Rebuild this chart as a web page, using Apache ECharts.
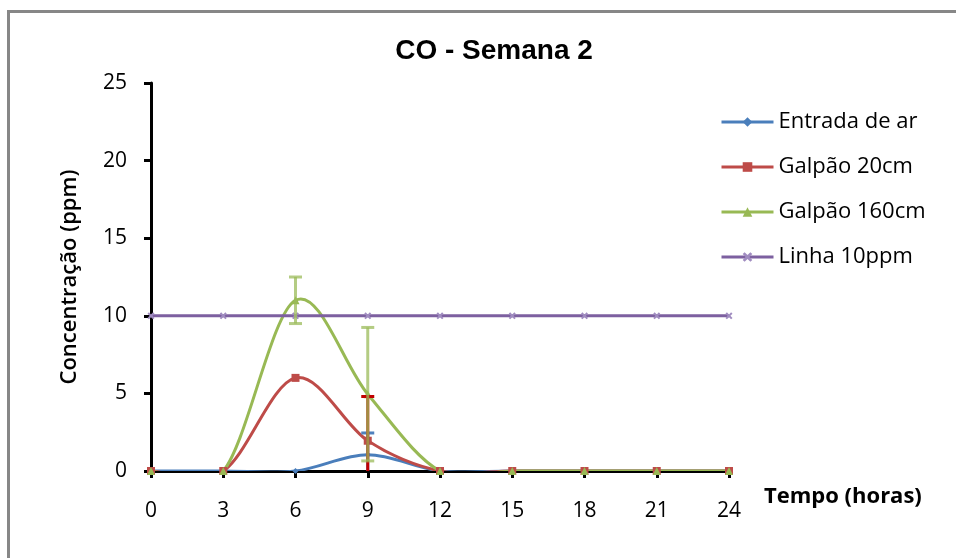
<!DOCTYPE html>
<html>
<head>
<meta charset="utf-8">
<script src="https://cdn.jsdelivr.net/npm/echarts@6/dist/echarts.min.js"></script>
<style>
  html, body { margin: 0; padding: 0; background: #fff; }
  #chart { width: 956px; height: 558px; }
</style>
</head>
<body>
<div id="chart"></div>
<script>
// Sampling times (hours) and CO concentrations (ppm), week 2
const hours = [0, 3, 6, 9, 12, 15, 18, 21, 24];
const entradaAr = [0, 0, 0, 1.05, 0, 0, 0, 0, 0];
const galpao20 = [0, 0, 6.0, 1.95, 0, 0, 0, 0, 0];
const galpao160 = [0, 0, 11.0, 4.95, 0, 0, 0, 0, 0];
const linha10 = [10, 10, 10, 10, 10, 10, 10, 10, 10];

// Standard deviations drawn as error bars: [hour, mean, deviation]
const erroEntrada = [[9, 1.05, 1.4]];
const erro20 = [[9, 1.95, 2.85]];
const erro160 = [[6, 11.0, 1.5], [9, 4.95, 4.3]];

const xTicks = [0, 3, 6, 9, 12, 15, 18, 21, 24];
const yTicks = [0, 5, 10, 15, 20, 25];

const seriesNames = ['Entrada de ar', 'Galpão 20cm', 'Galpão 160cm', 'Linha 10ppm'];
const colors = ['#4A7EBB', '#BE4B48', '#98B954', '#7D60A0'];

const pairs = vals => hours.map((h, i) => [h, vals[i]]);

const xMark = 'path://M2,0 L5,3 L8,0 L10,2 L7,5 L10,8 L8,10 L5,7 L2,10 L0,8 L3,5 L0,2 Z';

// Smoothed curve through the measured points (cardinal spline, spreadsheet style),
// placed with the grid's own coordinate system.
function curveSeries(key, vals, color) {
  return {
    type: 'custom',
    name: key,
    clip: true,
    z: 2,
    silent: true,
    data: [0],
    renderItem: function (params, api) {
      const p = hours.map((h, i) => api.coord([h, vals[i]]));
      let d = 'M' + p[0][0] + ',' + p[0][1];
      for (let i = 0; i < p.length - 1; i++) {
        const p0 = p[i - 1] || p[i];
        const p1 = p[i];
        const p2 = p[i + 1];
        const p3 = p[i + 2] || p[i + 1];
        const c1x = p1[0] + (p2[0] - p0[0]) / 6;
        const c1y = p1[1] + (p2[1] - p0[1]) / 6;
        const c2x = p2[0] - (p3[0] - p1[0]) / 6;
        const c2y = p2[1] - (p3[1] - p1[1]) / 6;
        d += ' C' + c1x + ',' + c1y + ' ' + c2x + ',' + c2y + ' ' + p2[0] + ',' + p2[1];
      }
      return {
        type: 'path',
        shape: { pathData: d },
        style: { stroke: color, fill: 'none', lineWidth: 3, lineJoin: 'round' }
      };
    }
  };
}

function errorSeries(key, data, color, opacity) {
  return {
    type: 'custom',
    name: key,
    clip: true,
    z: 5,
    silent: true,
    data: data,
    renderItem: function (params, api) {
      const x = api.value(0);
      const m = api.value(1);
      const d = api.value(2);
      const top = api.coord([x, m + d]);
      const bot = api.coord([x, m - d]);
      const w = 6.5;
      const style = { stroke: color, lineWidth: 3, opacity: opacity };
      return {
        type: 'group',
        children: [
          { type: 'line', shape: { x1: top[0], y1: top[1], x2: bot[0], y2: bot[1] }, style: style },
          { type: 'line', shape: { x1: top[0] - w, y1: top[1], x2: top[0] + w, y2: top[1] }, style: style },
          { type: 'line', shape: { x1: bot[0] - w, y1: bot[1], x2: bot[0] + w, y2: bot[1] }, style: style }
        ]
      };
    }
  };
}

function markerSeries(i, vals, symbol, size, markColor, smooth) {
  return {
    name: seriesNames[i], type: 'line', data: pairs(vals), z: 3,
    symbol: symbol, symbolSize: size,
    lineStyle: { width: 3, color: colors[i], opacity: smooth ? 0 : 1 },
    itemStyle: { color: markColor }
  };
}

const chart = echarts.init(document.getElementById('chart'));
chart.setOption({
  animation: false,
  backgroundColor: '#fff',
  color: colors,
  title: {
    text: 'CO - Semana 2',
    left: 489,
    textAlign: 'center',
    top: 32,
    textStyle: { fontFamily: 'Liberation Sans', fontWeight: 'bold', fontSize: 28, color: '#000' }
  },
  legend: {
    orient: 'vertical',
    left: 720,
    top: 111,
    padding: 0,
    itemWidth: 52,
    itemHeight: 12,
    itemGap: 23,
    data: seriesNames.map((n, i) => ({ name: n, lineStyle: { color: colors[i], width: 3, opacity: 1 } })),
    textStyle: { fontFamily: 'Open Sans', fontSize: 22, color: '#000', lineHeight: 22 }
  },
  grid: { left: 151, right: 227, top: 83, bottom: 87 },
  xAxis: {
    type: 'value',
    min: xTicks[0],
    max: xTicks[xTicks.length - 1],
    interval: 3,
    splitLine: { show: false },
    axisLine: { lineStyle: { color: '#000', width: 3 } },
    axisTick: { show: true, inside: false, length: 7, lineStyle: { color: '#000', width: 3 } },
    axisLabel: { margin: 30, fontFamily: 'Open Sans', fontSize: 21, color: '#000' }
  },
  yAxis: {
    type: 'value',
    min: yTicks[0],
    max: yTicks[yTicks.length - 1],
    interval: 5,
    name: 'Concentração (ppm)',
    nameLocation: 'middle',
    nameGap: 70,
    nameRotate: 90,
    nameTextStyle: { fontFamily: 'Open Sans', fontWeight: 600, fontSize: 22, color: '#000' },
    splitLine: { show: false },
    axisLine: { show: true, lineStyle: { color: '#000', width: 3 } },
    axisTick: { show: true, inside: false, length: 7, lineStyle: { color: '#000', width: 3 } },
    axisLabel: { margin: 24, fontFamily: 'Open Sans', fontSize: 21, color: '#000' }
  },
  series: [
    curveSeries('curva-entrada', entradaAr, colors[0]),
    curveSeries('curva-20cm', galpao20, colors[1]),
    curveSeries('curva-160cm', galpao160, colors[2]),
    markerSeries(0, entradaAr, 'diamond', 6, colors[0], true),
    markerSeries(1, galpao20, 'rect', 8, colors[1], true),
    markerSeries(2, galpao160, 'triangle', 8, colors[2], true),
    markerSeries(3, linha10, xMark, 7, '#A08CC0', false),
    errorSeries('desvio-entrada', erroEntrada, '#4F81BD', 1),
    errorSeries('desvio-20cm', erro20, '#C00000', 1),
    errorSeries('desvio-160cm', erro160, '#9BBB59', 0.75)
  ],
  graphic: [
    { type: 'line', silent: true, shape: { x1: 8.5, y1: 11.5, x2: 8.5, y2: 558 }, style: { stroke: '#878787', lineWidth: 3 } },
    { type: 'line', silent: true, shape: { x1: 7, y1: 11.5, x2: 956, y2: 11.5 }, style: { stroke: '#878787', lineWidth: 3 } },
    {
      type: 'text', silent: true, left: 764, top: 486,
      style: { text: 'Tempo (horas)', fontFamily: 'Open Sans', fontWeight: 'bold', fontSize: 22, fill: '#000' }
    }
  ]
});
</script>
</body>
</html>
